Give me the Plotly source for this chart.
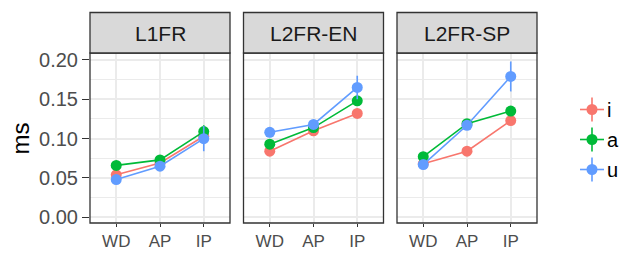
import plotly.graph_objects as go

panels = ["L1FR", "L2FR-EN", "L2FR-SP"]
positions = ["WD", "AP", "IP"]
vowels = ["i", "a", "u"]
colors = {"i": "#F8766D", "a": "#00BA38", "u": "#619CFF"}

# mean values per panel per vowel (WD, AP, IP)
mean_L1FR = {"i": [0.054, 0.069, 0.103], "a": [0.066, 0.073, 0.109], "u": [0.048, 0.065, 0.100]}
mean_L2FR_EN = {"i": [0.084, 0.110, 0.132], "a": [0.093, 0.114, 0.148], "u": [0.108, 0.118, 0.165]}
mean_L2FR_SP = {"i": [0.068, 0.084, 0.123], "a": [0.077, 0.119, 0.135], "u": [0.067, 0.117, 0.179]}
# standard errors
se_L1FR = {"i": [0.003, 0.003, 0.005], "a": [0.003, 0.003, 0.008], "u": [0.003, 0.003, 0.016]}
se_L2FR_EN = {"i": [0.003, 0.003, 0.004], "a": [0.003, 0.003, 0.005], "u": [0.003, 0.004, 0.015]}
se_L2FR_SP = {"i": [0.003, 0.004, 0.005], "a": [0.003, 0.004, 0.005], "u": [0.003, 0.004, 0.019]}

means = [mean_L1FR, mean_L2FR_EN, mean_L2FR_SP]
ses = [se_L1FR, se_L2FR_EN, se_L2FR_SP]

y_ticks = [0.0, 0.05, 0.10, 0.15, 0.20]

W, H = 621, 253
L, R, T, B = 90, 84, 53, 30
pw = W - L - R
ph = H - T - B
panel_px = 140
gap = (pw - 3 * panel_px) / 2

def px2x(p):
    return (p - L) / pw

def py2y(p):
    return (H - B - p) / ph

fig = go.Figure()
grid = "#ebebeb"
dark = "#333333"
FONT = "Liberation Sans"

for k, pname in enumerate(panels):
    xa = "x" if k == 0 else f"x{k+1}"
    ya = "y" if k == 0 else f"y{k+1}"
    for v in vowels:
        fig.add_trace(go.Scatter(
            x=positions, y=means[k][v], xaxis=xa, yaxis=ya,
            mode="lines+markers", name=v, showlegend=False,
            line=dict(color=colors[v], width=1.6),
            marker=dict(color=colors[v], size=11),
            error_y=dict(type="data", array=ses[k][v], visible=True,
                         color=colors[v], thickness=1.6, width=0),
        ))
    d0 = (k * (panel_px + gap)) / pw
    d1 = (k * (panel_px + gap) + panel_px) / pw
    xkey = "xaxis" if k == 0 else f"xaxis{k+1}"
    ykey = "yaxis" if k == 0 else f"yaxis{k+1}"
    fig.layout[xkey] = dict(
        domain=[d0, d1], anchor=ya, type="category", automargin=False,
        categoryorder="array", categoryarray=positions,
        range=[-0.6, 2.6], showgrid=True, gridcolor=grid, gridwidth=2,
        zeroline=False, showline=False, ticks="outside", ticklen=3,
        tickcolor=dark, tickwidth=1.3,
        tickfont=dict(family=FONT, size=17, color="#4d4d4d"),
        fixedrange=True,
    )
    fig.layout[ykey] = dict(
        domain=[0, 1], anchor=xa, range=[-0.0072, 0.2088], automargin=False,
        tickvals=y_ticks, ticktext=[f"{t:.2f}" for t in y_ticks],
        showticklabels=(k == 0), ticks="outside" if k == 0 else "",
        ticklen=7, tickcolor=dark, tickwidth=1.3,
        showgrid=True, gridcolor=grid, gridwidth=2, zeroline=False,
        showline=False,
        minor=dict(dtick=0.025, tick0=0.025, showgrid=True, gridcolor=grid, gridwidth=1, ticks=""),
        tickfont=dict(family=FONT, size=20, color="#4d4d4d"),
        fixedrange=True,
        **({} if k == 0 else {"matches": "y"}),
    )
    # panel border
    fig.add_shape(type="rect", xref="paper", yref="paper", x0=d0, x1=d1, y0=0, y1=1,
                  line=dict(color=dark, width=1.3), fillcolor="rgba(0,0,0,0)", layer="above")
    # strip
    fig.add_shape(type="rect", xref="paper", yref="paper", x0=d0, x1=d1,
                  y0=1, y1=py2y(12.5), line=dict(color=dark, width=1.3), fillcolor="#d9d9d9")
    fig.add_annotation(xref="paper", yref="paper", x=(d0 + d1) / 2, y=py2y(33.5),
                       text=pname, showarrow=False, xanchor="center", yanchor="middle",
                       font=dict(family=FONT, size=21, color="#1a1a1a"))

# axis title
fig.add_annotation(xref="paper", yref="paper", x=px2x(20), y=py2y(138.5), text="ms",
                   textangle=-90, showarrow=False, xanchor="center", yanchor="middle",
                   font=dict(family=FONT, size=24, color="black"))

# legend (drawn manually to mimic pointrange keys)
leg_y = [109.5, 139.5, 169.5]
kx = 592
for v, ly in zip(vowels, leg_y):
    c = colors[v]
    fig.add_shape(type="line", xref="paper", yref="paper", x0=px2x(kx - 12), x1=px2x(kx + 12),
                  y0=py2y(ly), y1=py2y(ly), line=dict(color=c, width=1.6))
    fig.add_shape(type="line", xref="paper", yref="paper", x0=px2x(kx), x1=px2x(kx),
                  y0=py2y(ly - 12), y1=py2y(ly + 12), line=dict(color=c, width=1.6))
    fig.add_shape(type="circle", xref="paper", yref="paper", x0=px2x(kx - 5.5), x1=px2x(kx + 5.5),
                  y0=py2y(ly - 5.5), y1=py2y(ly + 5.5), line=dict(color=c, width=0), fillcolor=c)
    fig.add_annotation(xref="paper", yref="paper", x=px2x(605), y=py2y(ly), text=v,
                       showarrow=False, xanchor="left", yanchor="middle",
                       font=dict(family=FONT, size=20, color="black"))

fig.update_layout(
    width=W, height=H, margin=dict(l=L, r=R, t=T, b=B, pad=0, autoexpand=False),
    paper_bgcolor="white", plot_bgcolor="white", showlegend=False,
)

fig.write_html("out.html", config={"displayModeBar": False},
               post_script="document.body.style.margin='0';document.body.style.overflow='hidden';")
